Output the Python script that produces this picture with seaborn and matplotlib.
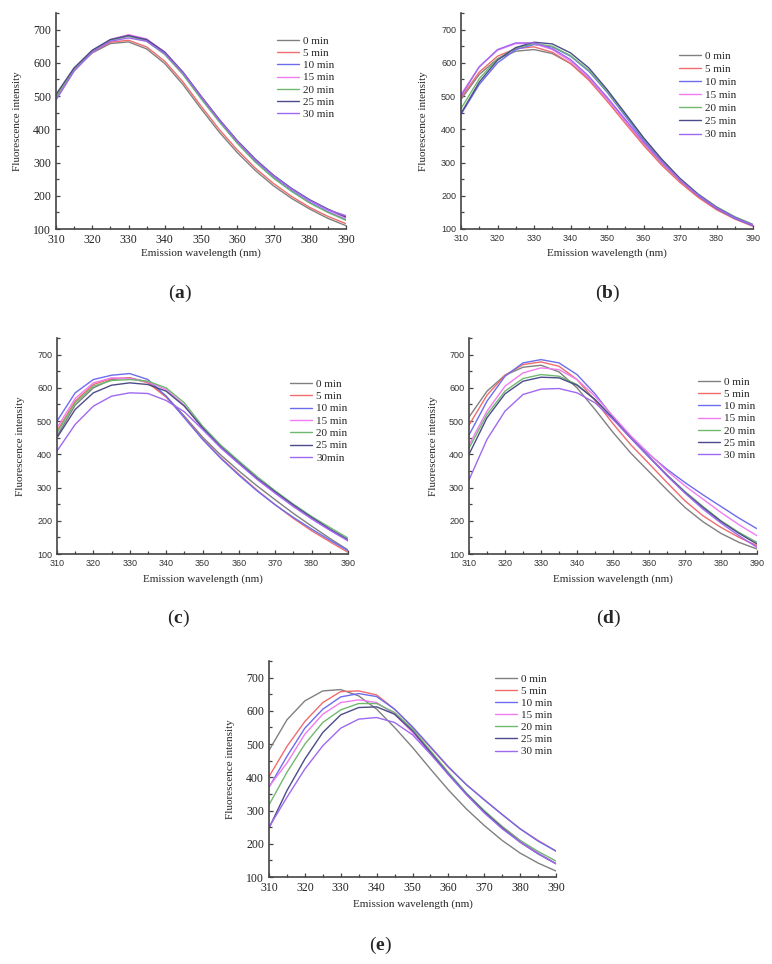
import matplotlib
matplotlib.use("Agg")
import matplotlib.pyplot as plt
import seaborn as sns
import pandas as pd
from matplotlib.ticker import MultipleLocator

W, H = 772, 964

# emission wavelength (nm)
wavelength = [310, 315, 320, 325, 330, 335, 340, 345, 350, 355, 360, 365, 370, 375, 380, 385, 390]

times = ["0 min", "5 min", "10 min", "15 min", "20 min", "25 min", "30 min"]
times_c = ["0 min", "5 min", "10 min", "15 min", "20 min", "25 min", "30min"]
colors = ["#808080", "#f06c6c", "#6c6cee", "#f07cf0", "#70b870", "#4c4c88", "#a068f0"]

# fluorescence intensity, one row per time point
panel_a = [
    [495, 578, 630, 658, 663, 642, 598, 535, 462, 392, 330, 276, 230, 192, 160, 132, 110],
    [498, 580, 632, 662, 668, 648, 605, 543, 470, 400, 338, 283, 237, 198, 165, 138, 116],
    [500, 582, 635, 668, 682, 668, 628, 568, 495, 425, 360, 303, 255, 215, 180, 152, 128],
    [500, 583, 637, 670, 685, 672, 633, 573, 500, 430, 365, 308, 260, 220, 185, 157, 133],
    [498, 582, 636, 668, 680, 665, 625, 565, 492, 423, 358, 301, 253, 213, 178, 150, 126],
    [505, 585, 638, 670, 682, 670, 632, 572, 500, 430, 366, 310, 262, 222, 188, 160, 136],
    [488, 575, 632, 665, 675, 665, 628, 570, 498, 428, 364, 307, 260, 220, 186, 158, 140],
]
panel_b = [
    [490, 565, 612, 635, 640, 628, 598, 552, 492, 425, 358, 298, 245, 198, 160, 132, 110],
    [495, 572, 620, 643, 648, 632, 598, 548, 485, 418, 352, 292, 240, 195, 158, 130, 108],
    [445, 535, 600, 640, 655, 648, 620, 575, 512, 440, 368, 303, 248, 200, 162, 132, 110],
    [505, 588, 638, 658, 658, 640, 605, 555, 492, 425, 360, 300, 248, 202, 165, 135, 112],
    [462, 552, 612, 645, 658, 650, 622, 578, 515, 445, 373, 308, 252, 205, 167, 137, 114],
    [448, 542, 608, 646, 662, 657, 630, 585, 520, 448, 375, 310, 252, 204, 165, 135, 112],
    [500, 588, 640, 660, 660, 643, 610, 560, 497, 430, 363, 302, 248, 202, 164, 134, 112],
]
panel_c = [
    [455, 548, 600, 625, 630, 618, 575, 515, 452, 398, 350, 305, 263, 222, 184, 147, 112],
    [470, 560, 610, 628, 630, 615, 572, 512, 447, 390, 340, 292, 248, 207, 170, 137, 105],
    [500, 585, 625, 638, 643, 625, 575, 510, 445, 388, 337, 290, 248, 210, 175, 142, 110],
    [480, 568, 615, 630, 628, 618, 595, 548, 478, 420, 372, 325, 283, 243, 206, 172, 140],
    [465, 555, 605, 622, 625, 620, 600, 555, 485, 428, 380, 333, 290, 250, 213, 180, 148],
    [450, 535, 585, 608, 615, 610, 590, 545, 480, 423, 375, 328, 287, 247, 210, 175, 143],
    [410, 490, 545, 575, 585, 583, 562, 528, 475, 420, 372, 325, 283, 243, 206, 172, 140],
]
panel_d = [
    [512, 590, 638, 662, 668, 648, 600, 535, 466, 403, 348, 293, 240, 197, 162, 135, 115],
    [488, 578, 638, 670, 678, 665, 625, 562, 492, 428, 372, 315, 260, 215, 180, 150, 125],
    [458, 560, 635, 675, 685, 675, 640, 582, 512, 452, 400, 355, 315, 278, 243, 208, 176],
    [428, 530, 605, 645, 660, 655, 625, 575, 515, 455, 402, 350, 305, 265, 225, 188, 155],
    [418, 520, 590, 628, 640, 635, 610, 565, 508, 448, 393, 338, 288, 243, 200, 165, 135],
    [400, 510, 582, 620, 632, 630, 608, 565, 508, 448, 392, 337, 285, 240, 198, 162, 130],
    [323, 445, 530, 580, 596, 598, 585, 555, 505, 448, 392, 335, 283, 235, 193, 155, 120],
]
panel_e = [
    [481, 573, 630, 660, 664, 645, 605, 550, 490, 425, 362, 305, 255, 210, 172, 142, 118],
    [402, 493, 568, 625, 658, 660, 648, 605, 550, 490, 430, 378, 333, 288, 245, 210, 178],
    [370, 463, 548, 605, 642, 652, 643, 605, 552, 492, 432, 378, 332, 288, 245, 208, 178],
    [372, 443, 530, 590, 625, 633, 625, 590, 535, 473, 410, 350, 298, 252, 210, 172, 140],
    [317, 415, 500, 565, 603, 622, 622, 595, 545, 480, 415, 353, 300, 252, 210, 177, 148],
    [247, 360, 455, 535, 588, 610, 612, 590, 540, 475, 410, 350, 296, 248, 205, 170, 140],
    [250, 340, 425, 495, 548, 575, 580, 565, 528, 470, 408, 348, 293, 245, 205, 170, 140],
]

sns.set_style("ticks")
plt.rcParams["font.family"] = ["Liberation Serif", "DejaVu Serif"]
plt.rcParams["mathtext.fontset"] = "custom"
plt.rcParams["mathtext.rm"] = "Liberation Serif"
plt.rcParams["mathtext.bf"] = "Liberation Serif:bold"

fig = plt.figure(figsize=(W / 100, H / 100), dpi=100)


def draw_panel(curves, labels, rect, tick_font, legend_xy, spacing, ylab_off, xlab_off, tag, tag_xy):
    l, t, r, b = rect
    ax = fig.add_axes([l / W, 1 - b / H, (r - l) / W, (b - t) / H])
    rows = []
    for lab, vals in zip(labels, curves):
        for x, y in zip(wavelength, vals):
            rows.append({"wl": x, "val": y, "time": lab})
    df = pd.DataFrame(rows)
    sns.lineplot(data=df, x="wl", y="val", hue="time", hue_order=labels,
                 palette=dict(zip(labels, colors)), linewidth=1.0, ax=ax)

    ax.set_xlim(310, 390)
    ax.set_ylim(100, 750)
    ax.set_xticks(range(310, 391, 10))
    ax.set_yticks(range(100, 701, 100))
    ax.xaxis.set_minor_locator(MultipleLocator(5))
    ax.yaxis.set_minor_locator(MultipleLocator(50))
    ax.tick_params(which="both", direction="in", color="#444444", width=0.9)
    ax.tick_params(which="major", length=3)
    ax.tick_params(which="minor", length=2)
    ax.tick_params(axis="both", pad=3.5)
    for lbl in ax.get_xticklabels() + ax.get_yticklabels():
        if tick_font == "sans":
            lbl.set_fontfamily("Liberation Sans")
            lbl.set_fontsize(6.5)
            lbl.set_color("#333333")
        else:
            lbl.set_fontsize(8.5)
            lbl.set_color("#222222")
    sns.despine(ax=ax)
    for s in ["left", "bottom"]:
        ax.spines[s].set_color("#444444")
        ax.spines[s].set_linewidth(1.2)

    ax.set_xlabel("Emission wavelength (nm)", fontsize=8)
    ax.set_ylabel("Fluorescence intensity", fontsize=8)
    ax.yaxis.set_label_coords(-(ylab_off - 5) / (r - l), 0.5)
    ax.xaxis.set_label_coords(0.5, -(xlab_off - 5.5) / (b - t))

    handles, labs = ax.get_legend_handles_labels()
    ax.legend(handles, labs, loc="upper left", frameon=False, fontsize=8,
              bbox_to_anchor=(legend_xy[0] / W, 1 - (legend_xy[1] - 6) / H),
              bbox_transform=fig.transFigure, borderpad=0, borderaxespad=0,
              handlelength=2.0, handletextpad=0.35, labelspacing=spacing)

    fig.text(tag_xy[0] / W, 1 - tag_xy[1] / H, "(" + r"$\mathbf{" + tag + "}$" + ")",
             fontsize=14, ha="center", va="center")
    return ax


draw_panel(panel_a, times, (56, 13, 346, 229), "serif", (277, 42), 0.22, 39, 25, "a", (180, 293))
draw_panel(panel_b, times, (461, 13, 753, 229), "sans", (679, 57), 0.3, 38, 25, "b", (608, 293))
draw_panel(panel_c, times_c, (57, 338, 348, 554), "sans", (290, 385), 0.23, 37, 26, "c", (178, 618))
draw_panel(panel_d, times, (469, 338, 757, 554), "sans", (698, 383), 0.22, 36, 26, "d", (609, 618))
draw_panel(panel_e, times, (269, 661, 556, 877), "serif", (495, 680), 0.21, 39, 28, "e", (380, 945))

fig.savefig("out.png", dpi=100)
